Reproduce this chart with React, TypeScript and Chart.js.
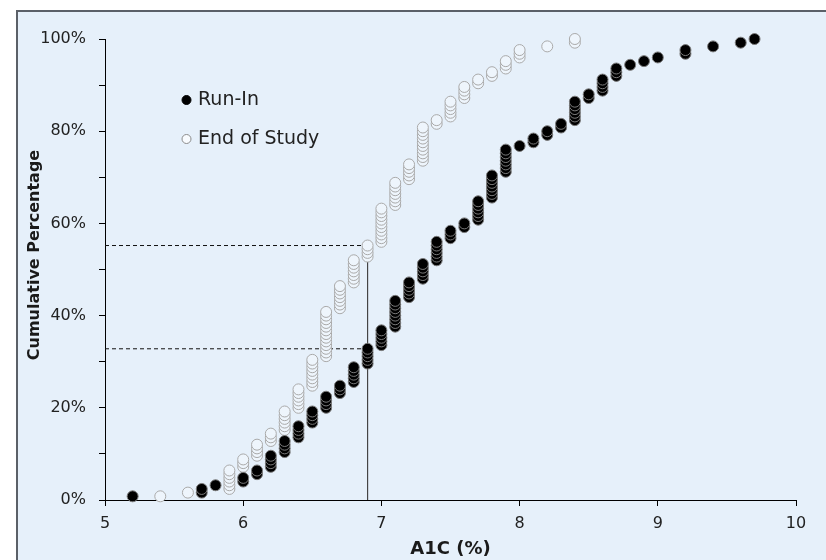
import React, { useEffect, useRef } from "react";
import { Chart, registerables } from "chart.js";

Chart.register(...registerables);

// ---- Data ----
// A1C values (%) and number of participants at each value
const runInA1C = [5.2, 5.7, 5.8, 6.0, 6.1, 6.2, 6.3, 6.4, 6.5, 6.6, 6.7, 6.8, 6.9, 7.0, 7.1, 7.2, 7.3, 7.4, 7.5, 7.6, 7.7, 7.8, 7.9, 8.0, 8.1, 8.2, 8.3, 8.4, 8.5, 8.6, 8.7, 8.8, 8.9, 9.0, 9.2, 9.4, 9.6, 9.7];
const runInCounts = [1, 2, 1, 2, 2, 4, 4, 4, 4, 4, 3, 5, 5, 5, 8, 5, 5, 6, 3, 2, 6, 7, 7, 1, 2, 2, 2, 6, 2, 4, 3, 1, 1, 1, 2, 1, 1, 1];

const endA1C = [5.4, 5.6, 5.9, 6.0, 6.1, 6.2, 6.3, 6.4, 6.5, 6.6, 6.7, 6.8, 6.9, 7.0, 7.1, 7.2, 7.3, 7.4, 7.5, 7.6, 7.7, 7.8, 7.9, 8.0, 8.2, 8.4];
const endCounts = [1, 1, 6, 3, 4, 3, 6, 6, 8, 13, 7, 7, 4, 10, 7, 5, 10, 2, 5, 4, 2, 2, 3, 3, 1, 2];

const seriesLabels = ["Run-In", "End of Study"];

// Reference lines: A1C of 6.9 and the cumulative percentages reached there
const refA1C = 6.9;
const refRunInPct = 32.8;
const refEndPct = 55.2;

const xMin = 5;
const xMax = 10;
const yMin = 0;
const yMax = 100;

const xTitle = "A1C (%)";
const yTitle = "Cumulative Percentage";

function cumulativePoints(values: number[], counts: number[]) {
  const total = counts.reduce((a, b) => a + b, 0);
  const pts: { x: number; y: number }[] = [];
  let cum = 0;
  values.forEach((v, i) => {
    for (let j = 0; j < counts[i]; j++) {
      cum += 1;
      pts.push({ x: v, y: (cum / total) * 100 });
    }
  });
  return pts;
}

const BG = "#e6f0fa";

export default function App() {
  const canvasRef = useRef<HTMLCanvasElement | null>(null);

  useEffect(() => {
    if (!canvasRef.current) return;

    const overlay = {
      id: "overlay",
      afterDraw(chart: any) {
        const ctx = chart.ctx as CanvasRenderingContext2D;
        ctx.save();
        // y axis title
        ctx.translate(17, 243);
        ctx.rotate(-Math.PI / 2);
        ctx.font = 'bold 16px "DejaVu Sans"';
        ctx.fillStyle = "#1a1a1a";
        ctx.textAlign = "center";
        ctx.textBaseline = "middle";
        ctx.fillText(yTitle, 0, 0);
        ctx.restore();

        // legend
        const items = [
          { y: 88, fill: "#000000", stroke: "#000000" },
          { y: 127, fill: "#f8fbfe", stroke: "#8a8a8a" },
        ];
        ctx.save();
        items.forEach((it, i) => {
          ctx.beginPath();
          ctx.arc(168.5, it.y, 4.5, 0, Math.PI * 2);
          ctx.fillStyle = it.fill;
          ctx.fill();
          ctx.lineWidth = 1;
          ctx.strokeStyle = it.stroke;
          ctx.stroke();
          ctx.font = '19px "DejaVu Sans"';
          ctx.fillStyle = "#222222";
          ctx.textAlign = "left";
          ctx.textBaseline = "middle";
          ctx.fillText(chart.data.datasets[i].label, 180, it.y);
        });
        ctx.restore();
      },
    };

    const chart = new Chart(canvasRef.current, {
      type: "scatter",
      data: {
        datasets: [
          {
            label: seriesLabels[0],
            data: cumulativePoints(runInA1C, runInCounts),
            backgroundColor: "#000000",
            borderColor: "#7a7a7a",
            borderWidth: 1,
            pointRadius: 5.5,
            pointHoverRadius: 5.5,
            clip: false,
          },
          {
            label: seriesLabels[1],
            data: cumulativePoints(endA1C, endCounts),
            backgroundColor: "#eef5fc",
            borderColor: "#a9a9a9",
            borderWidth: 1,
            pointRadius: 5.5,
            pointHoverRadius: 5.5,
            clip: false,
          },
          {
            label: "ref-vertical",
            data: [
              { x: refA1C, y: yMin },
              { x: refA1C, y: refEndPct },
            ],
            showLine: true,
            borderColor: "#444444",
            borderWidth: 1.2,
            pointRadius: 0,
          },
          {
            label: "ref-end",
            data: [
              { x: xMin, y: refEndPct },
              { x: refA1C, y: refEndPct },
            ],
            showLine: true,
            borderColor: "#111111",
            borderWidth: 1,
            borderDash: [4, 3],
            pointRadius: 0,
          },
          {
            label: "ref-runin",
            data: [
              { x: xMin, y: refRunInPct },
              { x: refA1C, y: refRunInPct },
            ],
            showLine: true,
            borderColor: "#111111",
            borderWidth: 1,
            borderDash: [4, 3],
            pointRadius: 0,
          },
        ],
      },
      options: {
        animation: false,
        responsive: false,
        layout: { padding: { left: 0, right: 30, top: 27, bottom: 0 } },
        plugins: {
          legend: { display: false },
          tooltip: { enabled: false },
        },
        scales: {
          x: {
            type: "linear",
            min: xMin,
            max: xMax,
            ticks: {
              stepSize: 1,
              color: "#222222",
              font: { family: "DejaVu Sans", size: 16 },
              padding: 8,
            },
            grid: {
              display: true,
              drawOnChartArea: false,
              drawTicks: true,
              tickLength: 6,
              tickColor: "#000000",
              tickWidth: 1,
            },
            border: { display: true, color: "#000000", width: 1 },
            title: {
              display: true,
              text: xTitle,
              color: "#1a1a1a",
              font: { family: "DejaVu Sans", size: 18, weight: "bold" },
              padding: { top: 0, bottom: 0 },
            },
            afterFit: (scale: any) => {
              scale.height = 60;
            },
          },
          y: {
            min: yMin,
            max: yMax,
            ticks: {
              stepSize: 10,
              color: "#222222",
              font: { family: "DejaVu Sans", size: 16 },
              padding: 13,
              callback: (v: any) => (Number(v) % 20 === 0 ? v + "%" : ""),
            },
            grid: {
              display: true,
              drawOnChartArea: false,
              drawTicks: true,
              tickLength: 6,
              tickColor: "#000000",
              tickWidth: 1,
            },
            border: { display: true, color: "#000000", width: 1 },
            afterFit: (scale: any) => {
              scale.width = 87;
            },
          },
        },
      },
      plugins: [overlay],
    });

    return () => chart.destroy();
  }, []);

  return (
    <div
      style={{
        position: "absolute",
        left: 16,
        top: 10,
        width: 810,
        height: 550,
        boxSizing: "border-box",
        background: BG,
        borderLeft: "2px solid #5b6068",
        borderTop: "2px solid #5b6068",
        overflow: "hidden",
      }}
    >
      <canvas ref={canvasRef} width={808} height={548} style={{ display: "block" }} />
    </div>
  );
}
